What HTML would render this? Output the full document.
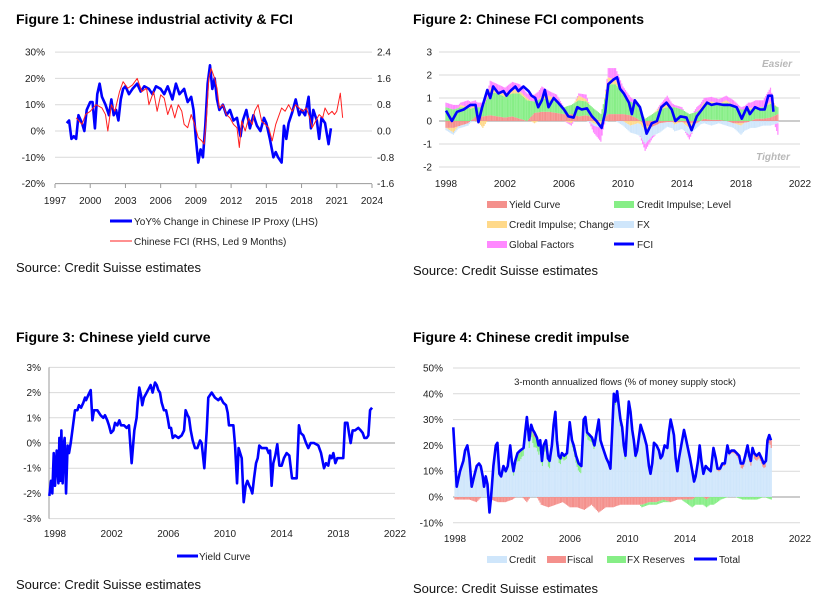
<!DOCTYPE html>
<html><head><meta charset="utf-8"><style>
html,body{margin:0;padding:0;background:#fff;}
svg{display:block;font-family:"Liberation Sans",Arial,sans-serif;}
.t{font-size:14px;font-weight:bold;fill:#000}
.tk{font-size:10px;fill:#222}
.lg{font-size:10px;fill:#222}
.src{font-size:13px;fill:#111}
</style></head><body>
<svg id="s" width="834" height="599" viewBox="0 0 834 599">
<rect width="834" height="599" fill="#fff"/>
<text class="t" x="16" y="24">Figure 1: Chinese industrial activity &amp; FCI</text>
<text class="t" x="413" y="24">Figure 2: Chinese FCI components</text>
<text class="t" x="16" y="342">Figure 3: Chinese yield curve</text>
<text class="t" x="413" y="342">Figure 4: Chinese credit impulse</text>
<text class="src" x="16" y="272">Source: Credit Suisse estimates</text>
<text class="src" x="413" y="275">Source: Credit Suisse estimates</text>
<text class="src" x="16" y="589">Source: Credit Suisse estimates</text>
<text class="src" x="413" y="593">Source: Credit Suisse estimates</text>
<g>
<line x1="110" y1="221" x2="132" y2="221" stroke="#0000ff" stroke-width="3"/>
<text class="lg" x="134" y="225">YoY% Change in Chinese IP Proxy (LHS)</text>
<line x1="110" y1="241" x2="132" y2="241" stroke="#ff2020" stroke-width="1"/>
<text class="lg" x="134" y="245">Chinese FCI (RHS, Led 9 Months)</text>
</g>
<g>
<rect x="487" y="201" width="20" height="7" fill="#f4908c"/>
<text class="lg" x="509" y="208">Yield Curve</text>
<rect x="614" y="201" width="20" height="7" fill="#86ee86"/>
<text class="lg" x="637" y="208">Credit Impulse; Level</text>
<rect x="487" y="221" width="20" height="7" fill="#ffd98a"/>
<text class="lg" x="509" y="228">Credit Impulse; Change</text>
<rect x="614" y="221" width="20" height="7" fill="#cfe6fb"/>
<text class="lg" x="637" y="228">FX</text>
<rect x="487" y="241" width="20" height="7" fill="#ff88ff"/>
<text class="lg" x="509" y="248">Global Factors</text>
<line x1="614" y1="244" x2="634" y2="244" stroke="#0000ff" stroke-width="3"/>
<text class="lg" x="637" y="248">FCI</text>
</g>
<g>
<line x1="177" y1="556" x2="198" y2="556" stroke="#0000ff" stroke-width="3"/>
<text class="lg" x="199" y="560">Yield Curve</text>
</g>
<g>
<rect x="487" y="556" width="20" height="7" fill="#cfe6fb"/>
<text class="lg" x="509" y="563">Credit</text>
<rect x="547" y="556" width="19" height="7" fill="#f4908c"/>
<text class="lg" x="567" y="563">Fiscal</text>
<rect x="607" y="556" width="19" height="7" fill="#86ee86"/>
<text class="lg" x="627" y="563">FX Reserves</text>
<line x1="694" y1="559" x2="717" y2="559" stroke="#0000ff" stroke-width="3"/>
<text class="lg" x="719" y="563">Total</text>
</g>
<text x="777" y="67" text-anchor="middle" font-size="10" font-style="italic" font-weight="bold" fill="#b8b8b8">Easier</text>
<text x="773" y="160" text-anchor="middle" font-size="10" font-style="italic" font-weight="bold" fill="#b8b8b8">Tighter</text>
<text x="625" y="385" text-anchor="middle" font-size="9.5" fill="#222">3-month annualized flows (% of money supply stock)</text>
</svg>
<script>
// ---------- Figure 1 data ----------
const f1IpDates=[1998.0,1998.2,1998.4,1998.6,1998.8,1999.0,1999.3,1999.5,1999.7,2000.0,2000.2,2000.4,2000.6,2000.8,2001.0,2001.3,2001.6,2001.8,2002.0,2002.2,2002.4,2002.6,2002.8,2003.0,2003.3,2003.6,2004.0,2004.3,2004.6,2005.0,2005.3,2005.6,2006.0,2006.3,2006.6,2007.0,2007.3,2007.6,2008.0,2008.3,2008.6,2008.8,2009.0,2009.2,2009.4,2009.6,2009.8,2010.0,2010.2,2010.4,2010.6,2010.8,2011.0,2011.3,2011.6,2011.9,2012.2,2012.5,2012.8,2013.0,2013.3,2013.6,2013.9,2014.2,2014.5,2014.8,2015.0,2015.3,2015.6,2015.8,2016.0,2016.3,2016.5,2016.7,2016.9,2017.2,2017.5,2017.8,2018.0,2018.3,2018.6,2018.8,2019.0,2019.3,2019.5,2019.7,2020.0,2020.3,2020.5];
const f1IpValues=[3,4,-3,-2,-3,6,3,0,8,11,11,1,14,18,13,10,6,12,6,8,4,12,16,17,14,16,18,15,17,16,14,17,16,14,17,12,18,14,16,11,13,8,-3,-12,-7,-10,2,18,25,16,20,12,8,10,6,8,4,5,-2,4,8,1,6,2,0,5,3,-3,-10,-8,-10,-12,2,-3,3,7,12,6,8,6,13,1,8,4,-3,5,3,-5,1];
const f1FciDates=[1998.8,1999.3,1999.6,2000.0,2000.5,2001.0,2001.3,2001.5,2001.8,2002.1,2002.5,2002.8,2003.2,2003.6,2004.0,2004.4,2004.8,2005.0,2005.4,2005.7,2006.0,2006.3,2006.6,2006.9,2007.2,2007.5,2007.8,2008.0,2008.3,2008.6,2008.9,2009.2,2009.5,2009.7,2009.9,2010.1,2010.3,2010.6,2010.8,2011.0,2011.3,2011.6,2011.9,2012.2,2012.5,2012.7,2012.9,2013.2,2013.5,2013.8,2014.0,2014.3,2014.6,2014.9,2015.2,2015.5,2015.8,2016.0,2016.3,2016.6,2016.9,2017.2,2017.5,2017.8,2018.1,2018.4,2018.7,2018.9,2019.2,2019.5,2019.8,2020.0,2020.3,2020.6,2020.8,2021.0,2021.3,2021.5];
const f1FciValues=[0.4,0.2,0.5,0.6,0.8,0.7,0.5,0.0,0.8,0.6,1.2,1.5,1.3,1.4,1.6,1.2,1.3,0.8,1.2,0.6,1.1,1.0,0.5,0.8,0.4,0.8,0.6,0.2,0.1,0.5,0.2,-0.2,-0.3,-0.4,0.4,1.6,1.9,1.6,1.3,0.7,0.8,0.5,0.4,0.2,0.1,-0.5,0.3,0.0,0.4,0.2,0.6,0.8,0.3,0.2,0.1,-0.3,0.2,0.4,0.7,0.6,0.8,0.6,0.8,0.7,0.6,0.7,0.4,0.1,0.3,0.5,0.4,0.7,0.5,0.6,0.5,0.6,1.15,0.4];
const f1LeftTicks=[30,20,10,0,-10,-20];
const f1LeftLabels=["30%","20%","10%","0%","-10%","-20%"];
const f1RightTicks=[2.4,1.6,0.8,0.0,-0.8,-1.6];
const f1RightLabels=["2.4","1.6","0.8","0.0","-0.8","-1.6"];
const f1XTicks=[1997,2000,2003,2006,2009,2012,2015,2018,2021,2024];
// ---------- Figure 2 data ----------
const f2CompDates=[1998,1998.5,1999,1999.5,2000,2000.5,2001,2001.5,2002,2002.5,2003,2003.5,2004,2004.5,2005,2005.5,2006,2006.5,2007,2007.5,2008,2008.5,2009,2009.5,2010,2010.5,2011,2011.5,2012,2012.5,2013,2013.5,2014,2014.5,2015,2015.5,2016,2016.5,2017,2017.5,2018,2018.5,2019,2019.5,2020,2020.5];
const f2Yield=[-0.3,-0.3,-0.2,-0.1,0.2,0.2,0.25,0.2,0.15,0.2,0.1,0.0,0.35,0.4,0.4,0.35,0.3,0.3,0.2,0.25,0.15,0.0,0.3,0.3,0.3,0.25,0.1,-0.2,-0.25,-0.1,-0.05,-0.05,-0.05,-0.1,-0.1,0.1,0.05,0.05,0.0,-0.1,-0.1,-0.05,0.1,0.1,0.15,0.3];
const f2CreditLevel=[0.6,0.5,0.6,0.6,0.4,0.4,1.0,1.0,0.9,1.0,1.1,0.9,0.5,0.6,0.5,0.5,0.3,0.4,0.7,0.6,0.4,0.3,1.3,1.3,0.9,0.6,0.6,0.1,0.3,0.5,0.6,0.6,0.5,0.3,0.4,0.6,0.7,0.7,0.8,0.7,0.5,0.5,0.5,0.5,0.6,0.3];
const f2CreditChange=[0.0,-0.2,0.1,0.0,0.1,-0.3,0.2,0.1,0.1,0.2,0.1,0.1,-0.1,0.1,0.2,0.1,0.0,-0.1,0.2,0.1,-0.1,-0.2,0.3,0.2,0.0,-0.2,-0.1,-0.2,0.0,0.1,0.2,-0.1,0.0,-0.2,0.0,0.1,0.1,0.0,0.1,0.0,-0.1,0.1,0.0,0.0,0.1,0.0];
const f2Fx=[-0.1,-0.1,-0.1,-0.1,0,0,0,0,0,0,0,0,0,0,0,0,0,0,0,0,-0.1,-0.1,0,0,-0.2,-0.3,-0.5,-0.6,-0.4,-0.4,-0.2,-0.3,-0.3,-0.3,-0.2,-0.1,-0.2,-0.1,-0.2,-0.2,-0.4,-0.3,-0.3,-0.2,-0.2,-0.1];
const f2Global=[0.2,0.2,0.1,0.3,0.2,0.2,0.3,0.3,0.3,0.3,0.3,0.2,0.3,0.4,0.2,0.2,0.0,-0.1,0.1,0.2,-0.3,-0.6,0.4,0.5,0.3,0.2,0.1,-0.3,-0.1,0.1,0.3,0.1,0.1,-0.2,0.2,0.2,0.2,0.2,0.2,0.2,0.1,0.2,0.3,0.3,0.6,-0.5];
const f2FciDates=[1998.0,1998.4,1998.75,1999.2,1999.65,2000.0,2000.2,2000.45,2000.8,2001.0,2001.2,2001.55,2001.9,2002.1,2002.35,2002.7,2002.9,2003.25,2003.6,2003.8,2004.05,2004.25,2004.5,2004.7,2004.95,2005.3,2005.6,2006.0,2006.3,2006.65,2006.9,2007.2,2007.55,2007.9,2008.2,2008.55,2008.8,2009.0,2009.35,2009.6,2009.8,2010.05,2010.4,2010.6,2010.8,2011.15,2011.4,2011.6,2011.95,2012.3,2012.6,2012.95,2013.3,2013.55,2013.9,2014.3,2014.65,2015.0,2015.35,2015.7,2016.0,2016.35,2016.8,2017.25,2017.7,2018.05,2018.4,2018.6,2018.95,2019.3,2019.6,2019.85,2020.1,2020.2];
const f2FciValues=[0.45,0.0,0.4,0.5,0.7,0.7,-0.05,0.6,1.35,1.0,1.5,1.2,1.3,1.1,1.3,1.5,1.3,1.5,1.3,1.1,1.0,0.6,0.9,1.35,0.6,1.0,0.8,0.5,0.2,0.15,0.6,0.5,0.55,0.2,0.0,-0.3,0.4,1.6,1.8,1.9,1.4,1.2,0.8,0.3,0.9,0.6,0.0,-0.55,-0.1,0.0,0.6,0.8,0.5,0.0,0.2,0.15,-0.4,0.2,0.5,0.8,0.7,0.75,0.7,0.7,0.6,0.1,0.6,0.3,0.6,0.5,0.5,1.1,1.1,0.4];
const f2YTicks=[3,2,1,0,-1,-2];
const f2YLabels=["3","2","1","0","-1","-2"];
const f2XTicks=[1998,2002,2006,2010,2014,2018,2022];
// ---------- Figure 3 data ----------
const f3Dates=[1997.60,1997.72,1997.81,1997.91,1998.00,1998.12,1998.24,1998.31,1998.38,1998.45,1998.54,1998.61,1998.68,1998.78,1998.89,1998.99,1999.11,1999.25,1999.41,1999.58,1999.69,1999.84,2000.00,2000.12,2000.19,2000.35,2000.52,2000.64,2000.75,2000.99,2001.22,2001.41,2001.53,2001.69,2001.81,2001.95,2002.12,2002.24,2002.40,2002.54,2002.66,2002.87,2003.06,2003.22,2003.41,2003.60,2003.76,2003.84,2003.95,2004.07,2004.16,2004.28,2004.47,2004.66,2004.75,2004.89,2005.06,2005.18,2005.29,2005.41,2005.53,2005.69,2005.84,2005.95,2006.07,2006.19,2006.31,2006.47,2006.71,2006.94,2007.11,2007.22,2007.36,2007.46,2007.58,2007.72,2007.88,2008.05,2008.24,2008.35,2008.54,2008.71,2008.82,2008.94,2009.06,2009.29,2009.53,2009.69,2009.88,2010.07,2010.19,2010.28,2010.47,2010.59,2010.71,2010.85,2010.96,2011.18,2011.32,2011.46,2011.58,2011.72,2011.81,2011.93,2012.05,2012.19,2012.31,2012.42,2012.59,2012.75,2012.94,2013.08,2013.18,2013.29,2013.41,2013.55,2013.69,2013.84,2014.00,2014.16,2014.35,2014.54,2014.73,2015.06,2015.22,2015.34,2015.53,2015.72,2015.88,2016.05,2016.28,2016.59,2016.78,2016.99,2017.13,2017.29,2017.41,2017.53,2017.65,2017.79,2017.93,2018.16,2018.35,2018.47,2018.64,2018.78,2018.87,2019.01,2019.18,2019.41,2019.58,2019.72,2019.84,2020.00,2020.12,2020.24,2020.38];
const f3Values=[-2.1,-1.5,-2.0,-0.4,-1.7,-0.3,-1.6,0.2,-1.5,0.5,-1.6,-0.1,0.2,-2.0,-0.1,-0.4,0.0,0.6,1.3,1.3,1.5,1.4,1.6,1.8,1.7,1.9,2.1,0.9,1.3,1.3,1.1,1.0,1.1,0.9,0.7,0.4,0.5,0.8,0.7,0.9,0.7,0.7,0.6,0.7,-0.8,0.5,1.0,1.6,2.2,1.9,1.5,1.8,2.0,2.2,2.3,2.0,2.4,2.3,2.1,2.0,1.6,1.3,1.3,1.0,0.6,0.6,0.2,0.3,0.2,0.3,0.5,1.3,1.1,1.0,0.5,0.1,-0.2,-0.2,0.1,0.0,-1.0,0.5,1.8,1.9,2.0,1.8,1.7,1.8,1.6,1.5,1.2,0.7,0.7,0.7,-0.1,-1.6,-0.2,-0.6,-2.35,-1.7,-1.5,-1.7,-1.8,-2.0,-1.4,-0.8,-0.6,-0.1,-0.2,-0.2,-0.2,-0.4,-0.3,-1.7,-0.8,-0.5,-0.05,-0.9,-0.9,-0.6,-0.4,-0.5,-1.4,-1.4,0.7,0.4,0.3,0.0,-0.2,0.0,0.0,-0.1,-0.4,-1.0,-0.8,-0.9,-0.5,-0.6,-0.4,-0.8,-0.6,-0.6,-0.6,0.8,0.8,0.3,0.0,0.5,0.5,0.6,0.5,0.4,0.2,0.2,0.3,1.3,1.4];
const f3YTicks=[3,2,1,0,-1,-2,-3];
const f3YLabels=["3%","2%","1%","0%","-1%","-2%","-3%"];
const f3XTicks=[1998,2002,2006,2010,2014,2018,2022];
// ---------- Figure 4 data ----------
const f4Dates=[1997.88,1998.12,1998.35,1998.58,1998.70,1998.86,1999.00,1999.16,1999.33,1999.51,1999.67,1999.79,1999.93,2000.02,2000.14,2000.26,2000.40,2000.51,2000.67,2000.84,2000.95,2001.09,2001.21,2001.37,2001.53,2001.67,2001.84,2001.95,2002.07,2002.19,2002.35,2002.53,2002.77,2002.88,2003.00,2003.16,2003.30,2003.42,2003.53,2003.70,2003.81,2003.93,2004.05,2004.16,2004.33,2004.47,2004.58,2004.74,2004.86,2004.98,2005.09,2005.21,2005.33,2005.44,2005.60,2005.79,2005.98,2006.14,2006.26,2006.42,2006.60,2006.79,2006.95,2007.07,2007.19,2007.37,2007.53,2007.70,2007.88,2008.00,2008.12,2008.23,2008.35,2008.53,2008.70,2008.81,2008.93,2009.05,2009.16,2009.28,2009.40,2009.51,2009.63,2009.74,2009.86,2009.98,2010.09,2010.21,2010.33,2010.44,2010.56,2010.67,2010.79,2010.91,2011.02,2011.14,2011.33,2011.49,2011.60,2011.72,2011.84,2012.02,2012.19,2012.30,2012.42,2012.58,2012.77,2012.88,2013.00,2013.12,2013.23,2013.35,2013.47,2013.58,2013.74,2013.93,2014.05,2014.16,2014.35,2014.51,2014.63,2014.74,2014.91,2015.02,2015.14,2015.28,2015.44,2015.60,2015.79,2015.98,2016.14,2016.26,2016.44,2016.60,2016.77,2016.95,2017.07,2017.23,2017.42,2017.60,2017.77,2017.88,2018.05,2018.19,2018.35,2018.47,2018.58,2018.70,2018.81,2018.98,2019.16,2019.33,2019.47,2019.63,2019.74,2019.86,2019.98];
const f4Total=[27,4,10,14,18,20,15,4,8,12,13,12,8,4,8,5,-6,0,12,20,21,9,8,12,10,12,20,14,10,14,17,18,19,25,31,22,28,26,25,23,20,22,14,20,22,15,14,20,28,33,22,16,15,17,16,17,29,22,20,16,13,12,30,31,25,24,23,20,26,30,22,20,18,15,13,11,25,40,37,41,35,30,27,20,16,28,37,33,26,22,16,18,23,28,26,24,20,12,9,13,21,20,18,15,16,20,19,25,30,27,24,15,10,15,20,26,23,20,15,10,6,8,14,20,14,9,12,11,10,19,15,11,11,13,13,20,17,18,18,17,16,13,13,16,20,16,14,19,17,16,17,15,13,14,22,24,22];
const f4BarDates=[1998,1998.5,1999,1999.5,2000,2000.5,2001,2001.5,2002,2002.5,2003,2003.5,2004,2004.5,2005,2005.5,2006,2006.5,2007,2007.5,2008,2008.5,2009,2009.5,2010,2010.5,2011,2011.5,2012,2012.5,2013,2013.5,2014,2014.5,2015,2015.5,2016,2016.5,2017,2017.5,2018,2018.5,2019,2019.5,2020];
const f4Fiscal=[-1,-1,-1,-2,1,-1,-2,-2,-1,1,-2,2,-3,-4,-3,-2,-4,-4,-5,-3,-6,-4,-4,-3,-3,-3,-3,-2,-2,-1,-2,-1,-1,-1,1,-1,1,1,1,1,2,2,2,2,3];
const f4FxRes=[0,0,0,0,0,0,0,1,2,3,3,4,4,3,3,2,2,3,3,2,2,0,1,3,2,2,-1,-1,-1,-1,0,1,-1,-3,-3,-3,-3,-1,0,0,-1,-1,-1,0,-1];
const f4YTicks=[50,40,30,20,10,0,-10];
const f4YLabels=["50%","40%","30%","20%","10%","0%","-10%"];
const f4XTicks=[1998,2002,2006,2010,2014,2018,2022];

// ---------- helpers ----------
const NS='http://www.w3.org/2000/svg';
const svg=document.getElementById('s');
function mk(tag,attrs,parent){const e=document.createElementNS(NS,tag);for(const k in attrs)e.setAttribute(k,attrs[k]);(parent||svg).appendChild(e);return e;}
function txt(s,x,y,anchor,parent){const e=mk('text',{x:x,y:y,'text-anchor':anchor,class:'tk'},parent);e.textContent=s;return e;}
function pathOf(xs,ys,fx,fy){let d='';for(let i=0;i<xs.length;i++){d+=(i?'L':'M')+fx(xs[i]).toFixed(2)+','+fy(ys[i]).toFixed(2);}return d;}
function interp(ds,vs,t){if(t<=ds[0])return vs[0];for(let i=1;i<ds.length;i++){if(t<=ds[i]){const f=(t-ds[i-1])/(ds[i]-ds[i-1]);return vs[i-1]+f*(vs[i]-vs[i-1]);}}return vs[vs.length-1];}

// ---------- Figure 1 ----------
(function(){
const g=mk('g',{});


const x=t=>55+(t-1997)*317/27, yL=v=>131-v*2.63, yR=r=>131-r*32.875;
f1LeftTicks.forEach((v,i)=>{
  const ln=mk('line',{x1:55,x2:372,y1:yL(v),y2:yL(v),stroke:i===f1LeftTicks.length-1?'#999':'#d9d9d9','stroke-width':1},g);
  
  
  const l=txt(f1LeftLabels[i],45,yL(v)+3.5,'end',g);
  
  
});
f1RightTicks.forEach((r,i)=>{
  const l=txt(f1RightLabels[i],377,yR(r)+3.5,'start',g);
  
  
});
f1XTicks.forEach(t=>{
  const tk=mk('line',{x1:x(t),x2:x(t),y1:184,y2:188,stroke:'#999'},g);
  
  
  const l=txt(String(t),x(t),204,'middle',g);
  
  
});
const ip=mk('path',{d:pathOf(f1IpDates,f1IpValues,x,yL),fill:'none',stroke:'#0000ff','stroke-width':2.6,'stroke-linejoin':'round'},g);


const fc=mk('path',{d:pathOf(f1FciDates,f1FciValues,x,yR),fill:'none',stroke:'#ff2020','stroke-width':1,'stroke-linejoin':'round'},g);


})();

// ---------- Figure 2 ----------
(function(){
const g=mk('g',{});


const x=t=>446+(t-1998)*354/24, y=v=>121-v*23;
f2YTicks.forEach((v,i)=>{
  const ln=mk('line',{x1:439,x2:800,y1:y(v),y2:y(v),stroke:v===0?'#999':'#d9d9d9','stroke-width':1},g);
  
  
  const l=txt(f2YLabels[i],432,y(v)+3.5,'end',g);
  
  
});
f2XTicks.forEach(t=>{
  const l=txt(String(t),x(t),187,'middle',g);
  
  
});
const comps=[[f2Yield,'#f4908c','yield-curve-bar'],[f2CreditLevel,'#86ee86','credit-level-bar'],[f2CreditChange,'#ffd98a','credit-change-bar'],[f2Fx,'#cfe6fb','fx-bar'],[f2Global,'#ff88ff','global-factors-bar']];
const t0=f2CompDates[0], t1=f2CompDates[f2CompDates.length-1];
for(let t=t0;t<=t1+1e-6;t+=1/12){
  let pos=0,neg=0;
  comps.forEach(c=>{
    const v=interp(f2CompDates,c[0],t); if(Math.abs(v)<0.005)return;
    let y0,y1;
    if(v>0){y0=pos;y1=pos+v;pos=y1;}else{y0=neg;y1=neg+v;neg=y1;}
    const r=mk('rect',{x:x(t)-0.6,width:1.2,y:Math.min(y(y0),y(y1)),height:Math.abs(y(y0)-y(y1)),fill:c[1]},g);
    
    
  });
}
const fl=mk('path',{d:pathOf(f2FciDates,f2FciValues,x,y),fill:'none',stroke:'#0000ff','stroke-width':2.6,'stroke-linejoin':'round'},g);


})();

// ---------- Figure 3 ----------
(function(){
const g=mk('g',{});


const x=t=>55+(t-1998)*340/24, y=v=>443-v*25.2;
f3YTicks.forEach((v,i)=>{
  const ln=mk('line',{x1:49,x2:395,y1:y(v),y2:y(v),stroke:v===0?'#999':'#d9d9d9','stroke-width':1},g);
  
  
  const l=txt(f3YLabels[i],41,y(v)+3.5,'end',g);
  
  
});
const ax=mk('line',{x1:49,x2:49,y1:y(3),y2:y(-3),stroke:'#999'},g);


f3XTicks.forEach(t=>{
  const l=txt(String(t),x(t),537,'middle',g);
  
  
});
const yl=mk('path',{d:pathOf(f3Dates,f3Values,x,y),fill:'none',stroke:'#0000ff','stroke-width':2.6,'stroke-linejoin':'round'},g);


})();

// ---------- Figure 4 ----------
(function(){
const g=mk('g',{});


const x=t=>455+(t-1998)*345/24, y=v=>497-v*2.58;
f4YTicks.forEach((v,i)=>{
  const ln=mk('line',{x1:453,x2:800,y1:y(v),y2:y(v),stroke:v===0?'#999':'#d9d9d9','stroke-width':1},g);
  
  
  const l=txt(f4YLabels[i],443,y(v)+3.5,'end',g);
  
  
});
f4XTicks.forEach(t=>{
  const l=txt(String(t),x(t),542,'middle',g);
  
  
});
const t0=f4BarDates[0], t1=f4BarDates[f4BarDates.length-1];
for(let t=t0;t<=t1+1e-6;t+=1/12){
  const tot=interp(f4Dates,f4Total,t);
  const fi=interp(f4BarDates,f4Fiscal,t), fx=interp(f4BarDates,f4FxRes,t);
  const cr=tot-Math.max(fi,0)-Math.max(fx,0);
  const r=mk('rect',{x:x(t)-0.6,width:1.2,y:Math.min(y(0),y(cr)),height:Math.abs(y(cr)-y(0)),fill:'#cfe6fb'},g);
  
  
  let top=tot, neg=0;
  [[fi,'#f4908c','fiscal-bar'],[fx,'#86ee86','fx-reserves-bar']].forEach(c=>{
    const v=c[0]; if(Math.abs(v)<0.05)return;
    let y0,y1;
    if(v>0){y0=top-v;y1=top;top=y0;}else{y0=neg;y1=neg+v;neg=y1;}
    const b=mk('rect',{x:x(t)-0.6,width:1.2,y:Math.min(y(y0),y(y1)),height:Math.abs(y(y0)-y(y1)),fill:c[1]},g);
    
    
  });
}
const tl=mk('path',{d:pathOf(f4Dates,f4Total,x,y),fill:'none',stroke:'#0000ff','stroke-width':2.6,'stroke-linejoin':'round'},g);


})();
</script>
</body></html>
